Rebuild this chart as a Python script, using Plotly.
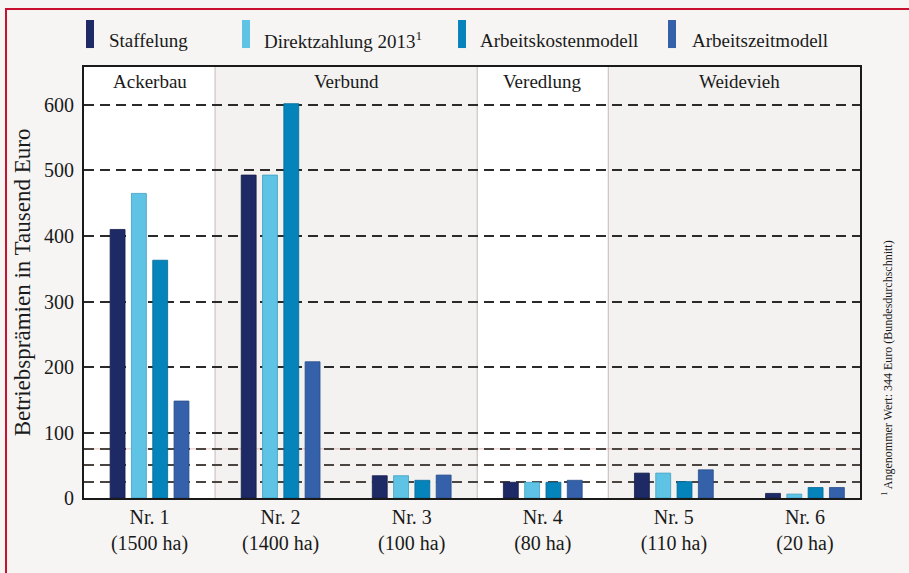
import plotly.graph_objects as go

# ---- data ----
categories = ["Nr. 1<br>(1500 ha)", "Nr. 2<br>(1400 ha)", "Nr. 3<br>(100 ha)",
              "Nr. 4<br>(80 ha)", "Nr. 5<br>(110 ha)", "Nr. 6<br>(20 ha)"]
series_names = ["Staffelung", "Direktzahlung 2013<sup>1</sup>", "Arbeitskostenmodell", "Arbeitszeitmodell"]
staffelung = [410, 493, 34, 24, 38, 7]
direktzahlung = [465, 493, 34, 24, 38, 6]
arbeitskosten = [363, 602, 27, 24, 25, 16]
arbeitszeit = [148, 208, 35, 27, 43, 16]
values = [staffelung, direktzahlung, arbeitskosten, arbeitszeit]
groups = ["Ackerbau", "Verbund", "Veredlung", "Weidevieh"]
group_centers = [0, 1.5, 3, 4.5]
group_bounds = [(-0.5, 0.5), (0.5, 2.5), (2.5, 3.5), (3.5, 5.42)]
y_ticks = [0, 100, 200, 300, 400, 500, 600]
minor_lines = [25, 50, 75]
accent_line = 75
footnote = "<sup>1</sup> Angenommer Wert: 344 Euro (Bundesdurchschnitt)"

colors = ["#1e2a66", "#5ec3e4", "#0583bb", "#3561aa"]
edge = ["#151d4a", "#3f9fc2", "#046a98", "#284c8a"]
FONT = "Liberation Serif"

x_idx = list(range(len(categories)))
fig = go.Figure()
for name, vals, c, e in zip(series_names, values, colors, edge):
    fig.add_trace(go.Bar(x=x_idx, y=vals, name=name, marker=dict(color=c, line=dict(color=e, width=0.8)),
                         showlegend=False, hoverinfo="skip"))

shapes = []
# panel backgrounds
for i, (a, b) in enumerate(group_bounds):
    shapes.append(dict(type="rect", xref="x", yref="paper", x0=a, x1=b, y0=0, y1=1,
                       fillcolor="#ffffff" if i % 2 == 0 else "#f3f2f1", line=dict(width=0), layer="below"))
# separators
for a, b in group_bounds[1:]:
    shapes.append(dict(type="line", xref="x", yref="paper", x0=a, x1=a, y0=0, y1=1,
                       line=dict(color="#cdc4c2", width=1.2), layer="below"))
# thin reddish line at 75 beneath the dashes
shapes.append(dict(type="line", xref="paper", yref="y", x0=0, x1=1, y0=accent_line, y1=accent_line,
                   line=dict(color="rgba(205,120,105,0.45)", width=1), layer="below"))
# red outer border
shapes.append(dict(type="rect", xref="paper", yref="paper", x0=-0.1005, x1=1.2, y0=-0.3, y1=1.1346,
                   line=dict(color="#c8102e", width=2), fillcolor="rgba(0,0,0,0)", layer="below"))

# legend markers + labels
leg_marker_x = [0.0026, 0.2036, 0.482, 0.7526]
leg_text_x = [0.0296, 0.2294, 0.5077, 0.781]
annotations = []
for name, c, mx, tx in zip(series_names, colors, leg_marker_x, leg_text_x):
    shapes.append(dict(type="rect", xref="paper", yref="paper", x0=mx, x1=mx + 0.0103, y0=1.044, y1=1.109,
                       fillcolor=c, line=dict(width=0)))
    annotations.append(dict(xref="paper", yref="paper", x=tx, y=1.062, text=name, showarrow=False,
                            xanchor="left", yanchor="middle", font=dict(family=FONT, size=19, color="#1a1a1a")))
for g, cx in zip(groups, group_centers):
    annotations.append(dict(xref="x", yref="paper", x=cx, y=0.9675, text=g, showarrow=False,
                            xanchor="center", yanchor="middle", font=dict(family=FONT, size=19, color="#1a1a1a")))
annotations.append(dict(xref="paper", yref="paper", x=1.035, y=0.0, text=footnote, showarrow=False,
                        textangle=-90, xanchor="center", yanchor="bottom",
                        font=dict(family=FONT, size=12, color="#1a1a1a")))

fig.update_layout(
    width=909, height=573,
    margin=dict(l=84, r=49, t=67, b=75),
    paper_bgcolor="#f6f5f3", plot_bgcolor="#f3f2f1",
    barmode="group", bargap=0.35, bargroupgap=0.3,
    shapes=shapes, annotations=annotations,
    font=dict(family=FONT, color="#1a1a1a"),
)
fig.update_xaxes(range=[-0.5, 5.42], tickvals=x_idx, ticktext=categories, showgrid=False,
                 showline=True, linecolor="#1a1a1a", linewidth=2, mirror=True, ticks="",
                 tickfont=dict(family=FONT, size=20, color="#1a1a1a"), zeroline=False)
fig.update_yaxes(range=[0, 658], tickvals=y_ticks, showgrid=True, gridcolor="#2a2a2a", gridwidth=2,
                 griddash="10px,6px", showline=True, linecolor="#1a1a1a", linewidth=2, mirror=True,
                 ticks="", ticklabelstandoff=4, zeroline=False,
                 tickfont=dict(family=FONT, size=20, color="#1a1a1a"),
                 title=dict(text="Betriebsprämien in Tausend Euro", standoff=7,
                            font=dict(family=FONT, size=23, color="#1a1a1a")),
                 minor=dict(tickvals=minor_lines, showgrid=True, gridcolor="#4a4540", gridwidth=2,
                            griddash="10px,6px", ticks=""))
fig.write_html("out.html", config={"displayModeBar": False},
               post_script="document.body.style.margin='0';")
